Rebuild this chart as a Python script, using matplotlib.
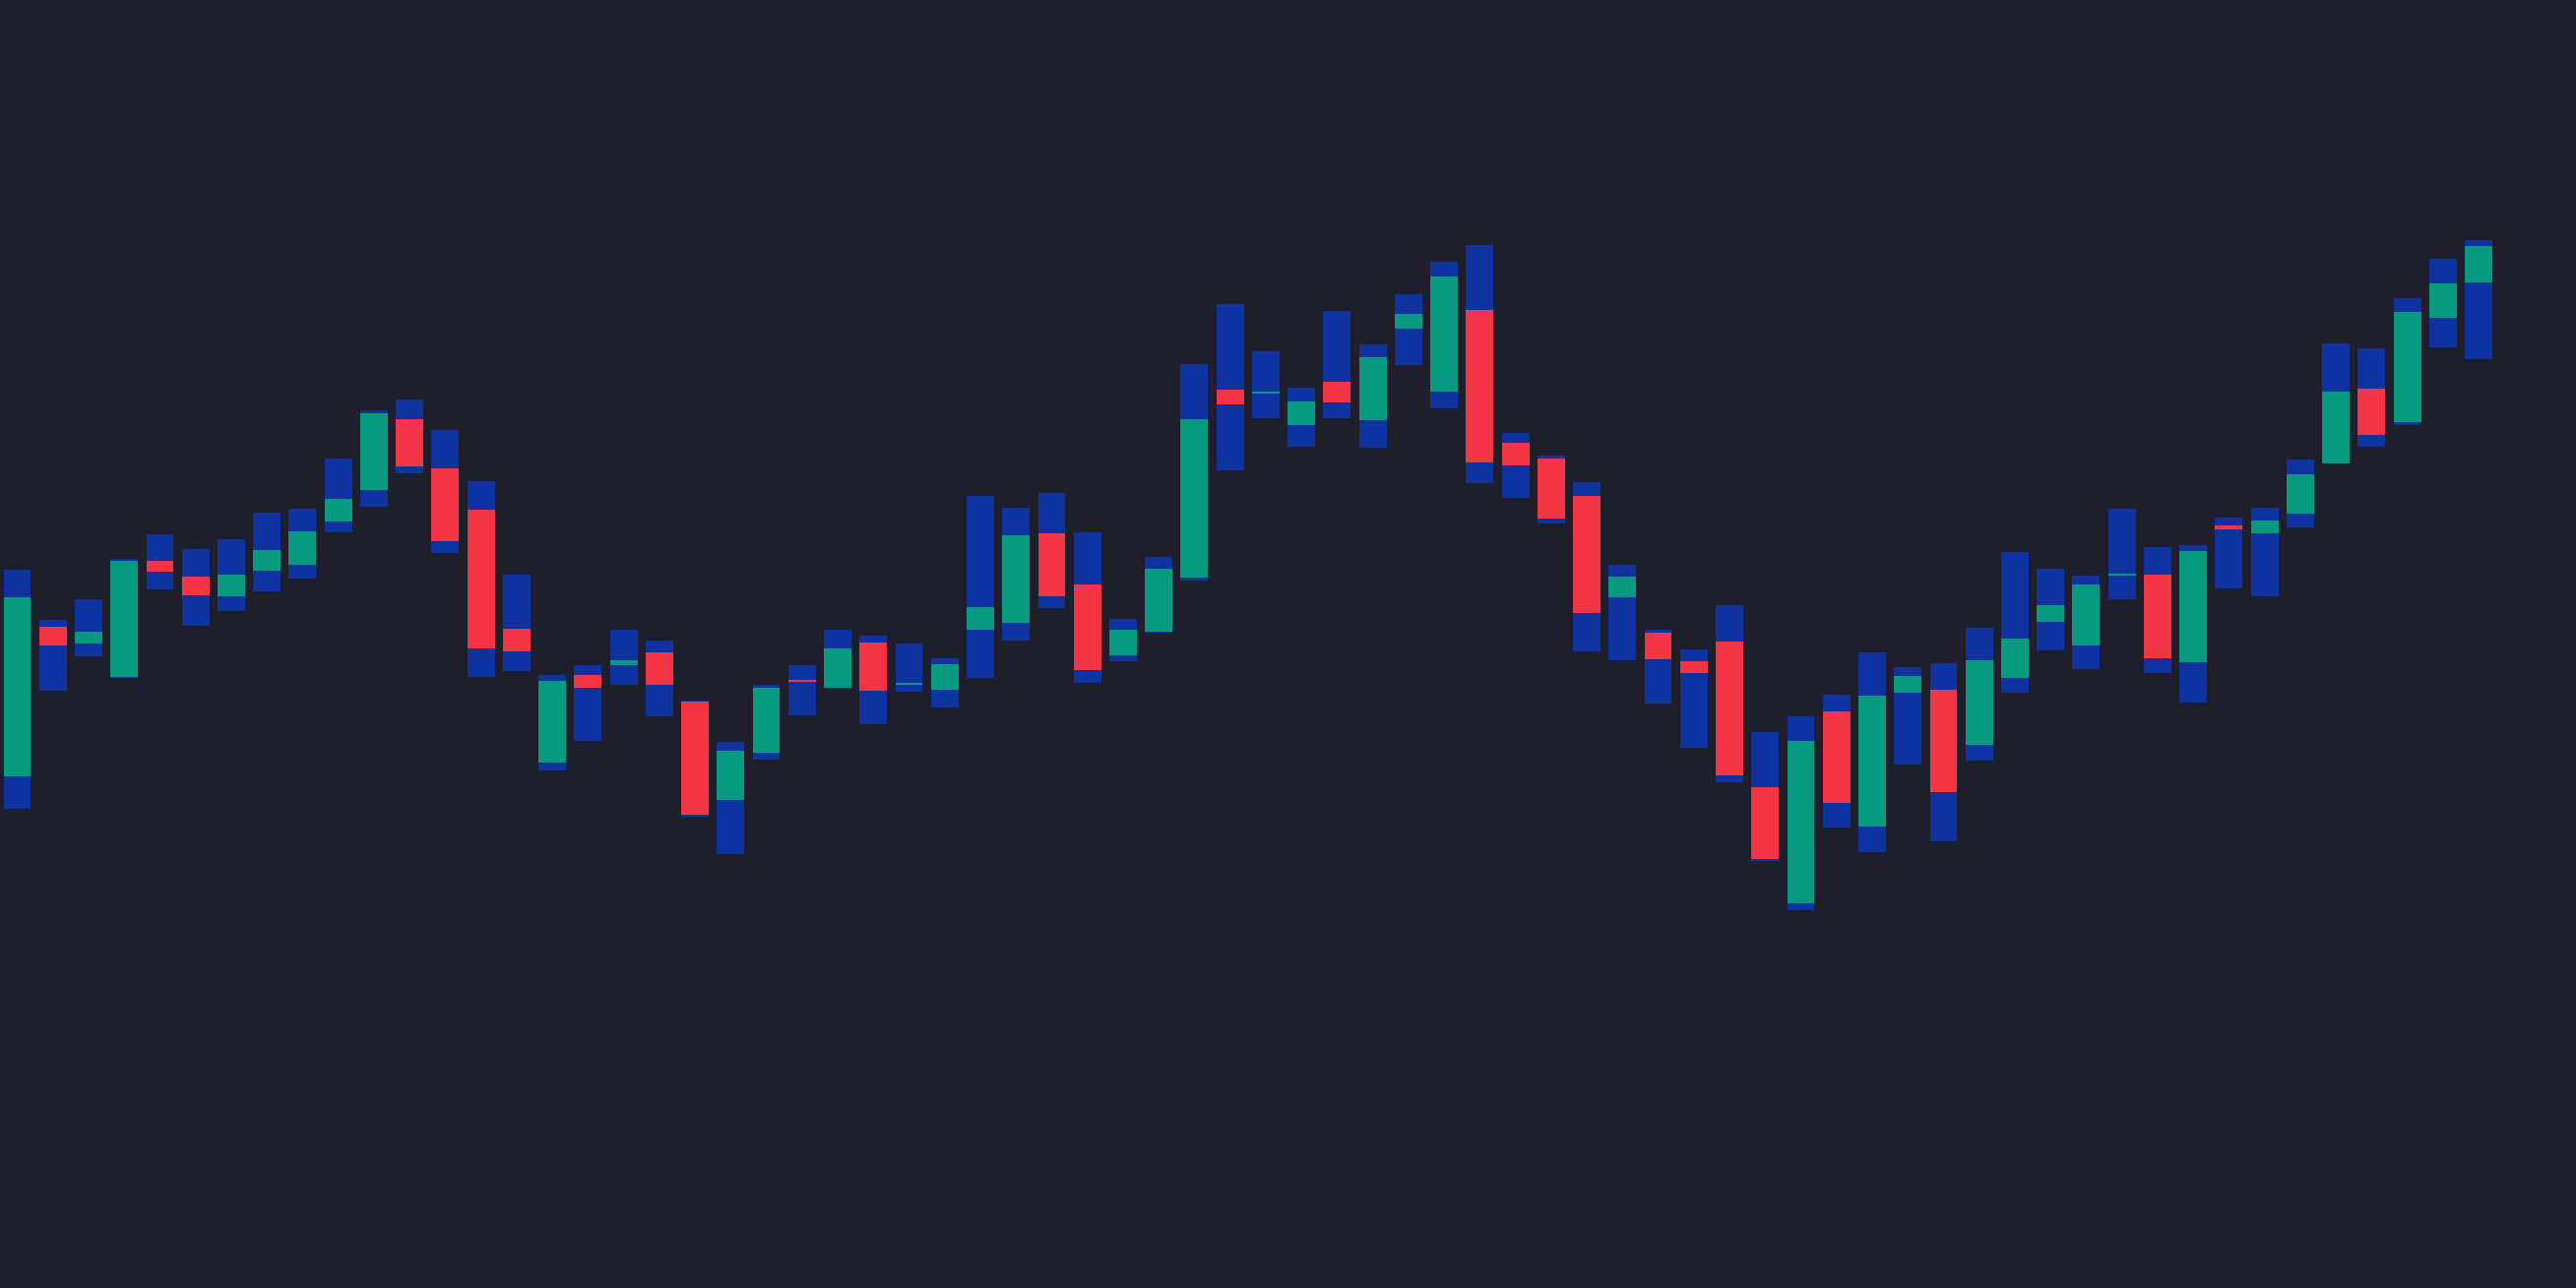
import matplotlib
matplotlib.use("Agg")
import matplotlib.pyplot as plt
import numpy as np

# OHLC values (arbitrary price units)
opens = [121.1, 136.3, 134.6, 131.2, 143.0, 141.4, 139.4, 142.0, 142.6, 147.0,
         150.2, 157.4, 152.4, 148.2, 136.1, 122.5, 131.4, 132.4, 133.7, 128.7,
         118.7, 123.5, 130.9, 130.1, 134.7, 130.4, 129.9, 136.0, 136.7, 145.8,
         140.6, 133.4, 135.8, 141.3, 160.4, 160.0, 156.8, 161.2, 157.3, 166.6,
         160.2, 168.5, 155.0, 153.4, 149.6, 139.3, 135.7, 132.8, 134.8, 120.0,
         108.2, 127.7, 116.0, 129.6, 129.9, 124.3, 131.1, 136.8, 134.4, 141.5,
         141.6, 132.7, 146.6, 145.8, 147.8, 152.9, 160.5, 157.1, 167.7, 171.3]
highs = [142.1, 137.0, 139.1, 143.2, 145.7, 144.2, 145.2, 147.9, 148.3, 153.4,
         158.3, 159.4, 156.3, 151.1, 141.6, 131.4, 132.4, 136.0, 134.9, 128.8,
         124.6, 130.4, 132.4, 136.0, 135.4, 134.6, 133.1, 149.6, 148.4, 149.9,
         145.9, 137.1, 143.4, 163.0, 169.1, 164.3, 160.6, 168.4, 165.0, 170.1,
         173.4, 175.1, 156.0, 153.7, 151.0, 142.6, 136.0, 134.0, 138.5, 125.6,
         127.2, 129.4, 133.7, 132.2, 132.6, 136.2, 143.9, 142.2, 141.5, 148.3,
         144.4, 144.6, 147.4, 148.4, 153.3, 165.1, 164.6, 169.7, 173.7, 175.6]
lows = [117.8, 129.8, 133.3, 131.1, 140.1, 136.4, 137.9, 139.9, 141.2, 145.9,
        148.5, 151.9, 143.8, 131.2, 131.8, 121.7, 124.7, 130.4, 127.2, 117.0,
        113.2, 122.8, 127.3, 130.0, 126.4, 129.7, 128.1, 131.1, 134.9, 138.2,
        130.6, 132.8, 135.7, 141.0, 152.2, 157.5, 154.6, 157.5, 154.5, 162.9,
        158.5, 150.9, 149.4, 146.8, 133.8, 132.9, 128.5, 124.0, 120.5, 112.5,
        107.5, 115.9, 113.4, 122.3, 114.5, 122.7, 129.6, 133.9, 132.0, 139.1,
        131.6, 128.6, 140.2, 139.4, 146.4, 152.9, 154.6, 156.8, 164.7, 163.5]
closes = [139.3, 134.4, 135.8, 143.0, 141.9, 139.5, 141.6, 144.1, 146.0, 149.3,
          158.0, 152.6, 145.0, 134.1, 133.8, 130.8, 130.1, 132.9, 130.4, 117.2,
          123.7, 130.1, 130.7, 134.1, 129.8, 130.6, 132.5, 138.3, 145.6, 139.4,
          131.9, 136.0, 142.2, 157.4, 158.9, 160.2, 159.2, 159.1, 163.7, 168.1,
          171.9, 153.0, 152.7, 147.3, 137.7, 141.4, 133.0, 131.6, 121.2, 112.7,
          124.7, 118.4, 129.3, 131.3, 119.5, 132.9, 135.1, 138.5, 140.6, 141.7,
          133.1, 144.0, 146.2, 147.1, 151.8, 160.2, 155.8, 168.3, 171.2, 175.0]

BG = "#1e1f2b"
WICK = "#0e33a0"
UP = "#089981"
DOWN = "#f23645"

o = np.array(opens); h = np.array(highs); l = np.array(lows); c = np.array(closes)
x = np.arange(len(o))

fig = plt.figure(figsize=(26.17, 13.09), dpi=100, facecolor=BG)
ax = fig.add_axes([0, 0, 1, 1])
ax.set_facecolor(BG)

w = 0.77
ax.bar(x, h - l, bottom=l, width=w, color=WICK, linewidth=0)
body_lo = np.minimum(o, c)
body_h = np.abs(c - o)
cols = [UP if cc >= oo else DOWN for oo, cc in zip(o, c)]
ax.bar(x, body_h, bottom=body_lo, width=w, color=cols, linewidth=0)

ax.set_xlim(-0.483, 71.73)
ax.set_ylim(69.1, 200.0)
ax.axis("off")

fig.savefig("out.png", dpi=100, facecolor=BG)
